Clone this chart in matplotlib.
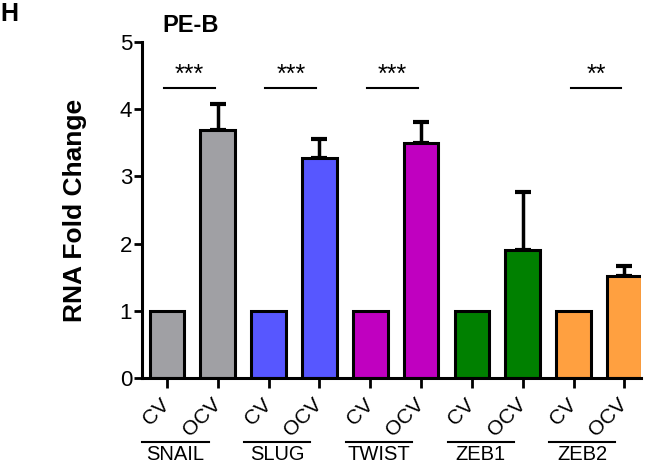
import matplotlib
matplotlib.use('Agg')
import matplotlib.pyplot as plt
import matplotlib.transforms as mtransforms
import numpy as np

plt.rcParams['font.family'] = ['Liberation Sans', 'DejaVu Sans']

# data
genes = ['SNAIL', 'SLUG', 'TWIST', 'ZEB1', 'ZEB2']
conditions = ['CV', 'OCV']
cv_values = [1.0, 1.0, 1.0, 1.0, 1.0]
ocv_values = [3.69, 3.27, 3.49, 1.91, 1.52]
ocv_err = [0.39, 0.28, 0.32, 0.86, 0.14]
gene_colors = ['#A0A0A4', '#5757FF', '#C000C0', '#008000', '#FFA040']
sig_labels = ['***', '***', '***', '', '**']

fig = plt.figure(figsize=(6.51, 4.65), dpi=100)
ax = fig.add_axes([0.218, 0.187, 0.767, 0.723])

# build bar positions: CV, OCV pairs
x = np.arange(len(genes) * 2)
heights = []
colors = []
for i in range(len(genes)):
    heights += [cv_values[i], ocv_values[i]]
    colors += [gene_colors[i], gene_colors[i]]

ax.bar(x, heights, width=0.68, color=colors, edgecolor='black', linewidth=2.2, zorder=2)
err_x = x[1::2]
ax.errorbar(err_x, ocv_values, yerr=[np.zeros(len(genes)), ocv_err], fmt='none',
            ecolor='black', elinewidth=2.5, capsize=6, capthick=3, zorder=1)

ax.set_ylim(0, 5)
ax.set_xlim(-0.49, 9.33)
ax.set_yticks([0, 1, 2, 3, 4, 5])
ax.set_xticks(x)
ax.set_xticklabels(conditions * len(genes), rotation=45, ha='right', va='center',
                   rotation_mode='anchor', fontsize=15)
ax.tick_params(axis='x', length=7, width=2, pad=10)
ax.tick_params(axis='y', length=6, width=2, labelsize=16, pad=1)
for s in ['top', 'right']:
    ax.spines[s].set_visible(False)
for s in ['left', 'bottom']:
    ax.spines[s].set_linewidth(2.2)

ax.set_ylabel('RNA Fold Change', fontsize=19, fontweight='bold')
ax.yaxis.set_label_coords(-0.11, 0.5)

# significance lines and stars
for i, lab in enumerate(sig_labels):
    if not lab:
        continue
    x0 = 2 * i - 0.06
    x1 = 2 * i + 0.94
    ax.plot([x0, x1], [4.31, 4.31], color='black', lw=1.5, clip_on=False)
    ax.text((x0 + x1) / 2, 4.33, lab, ha='center', va='bottom', fontsize=18)

# group labels under the axis
trans = mtransforms.blended_transform_factory(ax.transData, ax.transAxes)
for i, g in enumerate(genes):
    x0 = 2 * i - 0.48
    x1 = 2 * i + 0.82
    ax.plot([x0, x1], [-0.19, -0.19], color='black', lw=1.5, transform=trans, clip_on=False)
    ax.text((x0 + x1) / 2, -0.243, g, ha='center', va='baseline', fontsize=14.5, transform=trans)

fig.text(0.25, 0.945, 'PE-B', fontsize=17, fontweight='bold', ha='left', va='center')
fig.text(0.0, 0.995, 'H', fontsize=18, fontweight='bold', ha='left', va='top')

fig.savefig('out.png', dpi=100)
